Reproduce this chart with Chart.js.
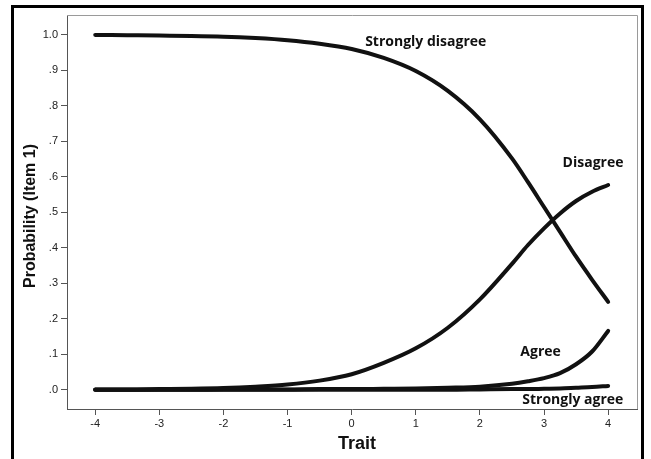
<!DOCTYPE html>
<html>
<head>
<meta charset="utf-8">
<title>Item 1 category response curves</title>
<script src="https://cdn.jsdelivr.net/npm/chart.js@4.4.1/dist/chart.umd.min.js"></script>
<style>
    html, body { margin: 0; padding: 0; background: #fff; overflow: hidden; }
    #wrap { position: relative; width: 651px; height: 459px; }
    #frame {
        position: absolute; left: 11px; top: 5px; width: 627px; height: 470px;
        border: 3px solid #000; border-bottom: none;
    }
    canvas { position: absolute; left: 0; top: 0; }
</style>
</head>
<body>
<div id="wrap">
    <div id="frame"></div>
    <canvas id="curveChart" width="651" height="459"></canvas>
</div>
<script>
// Trait values and category probabilities
const traitValues = [-4, -3.5, -3, -2.5, -2, -1.5, -1, -0.5, 0, 0.5, 1, 1.5, 2, 2.5, 2.75, 3, 3.25, 3.5, 3.75, 4];
const stronglyDisagree = [1.000, 0.999, 0.998, 0.997, 0.995, 0.991, 0.985, 0.975, 0.960, 0.935, 0.898, 0.842, 0.762, 0.652, 0.585, 0.515, 0.445, 0.375, 0.310, 0.248];
const disagree = [0.001, 0.001, 0.002, 0.003, 0.005, 0.009, 0.015, 0.026, 0.044, 0.076, 0.117, 0.175, 0.255, 0.355, 0.408, 0.455, 0.497, 0.532, 0.558, 0.577];
const agree = [0.000, 0.000, 0.000, 0.000, 0.001, 0.001, 0.001, 0.002, 0.002, 0.003, 0.004, 0.006, 0.009, 0.017, 0.024, 0.033, 0.047, 0.072, 0.108, 0.166];
const stronglyAgree = [0.000, 0.000, 0.000, 0.000, 0.000, 0.000, 0.000, 0.000, 0.000, 0.000, 0.000, 0.000, 0.001, 0.002, 0.002, 0.003, 0.004, 0.006, 0.008, 0.011];

// Axis ticks
const xTicks = [-4, -3, -2, -1, 0, 1, 2, 3, 4];
const yTicks = [0, 0.1, 0.2, 0.3, 0.4, 0.5, 0.6, 0.7, 0.8, 0.9, 1.0];
const yTickLabels = ['.0', '.1', '.2', '.3', '.4', '.5', '.6', '.7', '.8', '.9', '1.0'];

// Curve labels: text and anchor in data units (trait, probability)
const curveLabels = ['Strongly disagree', 'Disagree', 'Agree', 'Strongly agree'];
const curveLabelX = [0.21, 3.29, 2.63, 2.66];
const curveLabelY = [0.98, 0.64, 0.107, -0.028];

const xTitle = 'Trait';
const yTitle = 'Probability (Item 1)';

// Build line dataset
function makeSeries(label, values) {
    return {
        label: label,
        data: traitValues.map((x, i) => ({ x: x, y: values[i] })),
        borderColor: '#111',
        borderWidth: 4,
        borderCapStyle: 'round',
        borderJoinStyle: 'round',
        pointRadius: 0,
        cubicInterpolationMode: 'monotone',
        fill: false
    };
}

// Frame, axis titles and curve labels
const decorPlugin = {
    id: 'decor',
    afterDraw(chart) {
        const ctx = chart.ctx;
        const area = chart.chartArea;
        const xs = chart.scales.x;
        const ys = chart.scales.y;

        ctx.save();
        ctx.strokeStyle = '#9a9a9a';
        ctx.lineWidth = 1;
        ctx.beginPath();
        ctx.moveTo(area.left, area.top + 0.5);
        ctx.lineTo(area.right + 0.5, area.top + 0.5);
        ctx.lineTo(area.right + 0.5, area.bottom);
        ctx.stroke();

        ctx.fillStyle = '#111';
        ctx.font = 'bold 14px "Open Sans"';
        ctx.textAlign = 'left';
        ctx.textBaseline = 'middle';
        curveLabels.forEach((text, i) => {
            ctx.fillText(text, xs.getPixelForValue(curveLabelX[i]), ys.getPixelForValue(curveLabelY[i]));
        });

        ctx.font = 'bold 18px "Liberation Sans"';
        ctx.textAlign = 'center';
        ctx.fillText(xTitle, (area.left + area.right) / 2 + 5, 444);

        ctx.translate(31, 216);
        ctx.rotate(-Math.PI / 2);
        ctx.font = 'bold 16px "Liberation Sans"';
        ctx.fillText(yTitle, 0, 0);
        ctx.restore();
    }
};

function drawChart() {
    const ctx = document.getElementById('curveChart').getContext('2d');

    new Chart(ctx, {
        type: 'line',
        data: {
            datasets: [
                makeSeries('Strongly disagree', stronglyDisagree),
                makeSeries('Disagree', disagree),
                makeSeries('Agree', agree),
                makeSeries('Strongly agree', stronglyAgree)
            ]
        },
        options: {
            responsive: false,
            animation: false,
            layout: { padding: { top: 15, right: 14, left: 0, bottom: 0 } },
            plugins: {
                legend: { display: false },
                tooltip: { enabled: false }
            },
            scales: {
                x: {
                    type: 'linear',
                    min: -4.44,
                    max: 4.45,
                    afterFit: s => { s.height = 50; },
                    afterBuildTicks: s => { s.ticks = xTicks.map(v => ({ value: v })); },
                    grid: { display: true, drawOnChartArea: false, drawTicks: true, tickLength: 6, color: '#555' },
                    border: { display: true, color: '#555', width: 1 },
                    ticks: {
                        color: '#222',
                        padding: 2,
                        maxRotation: 0,
                        font: { family: 'Liberation Sans', size: 11 },
                        callback: v => String(v)
                    }
                },
                y: {
                    type: 'linear',
                    min: -0.054,
                    max: 1.056,
                    afterFit: s => { s.width = 67; },
                    afterBuildTicks: s => { s.ticks = yTicks.map(v => ({ value: v })); },
                    grid: { display: true, drawOnChartArea: false, drawTicks: true, tickLength: 6, color: '#555' },
                    border: { display: true, color: '#555', width: 1 },
                    ticks: {
                        color: '#222',
                        padding: 3,
                        font: { family: 'Liberation Sans', size: 11 },
                        callback: (v, i) => yTickLabels[i]
                    }
                }
            }
        },
        plugins: [decorPlugin]
    });
}

document.addEventListener('DOMContentLoaded', () => {
    drawChart();
});
</script>
</body>
</html>
